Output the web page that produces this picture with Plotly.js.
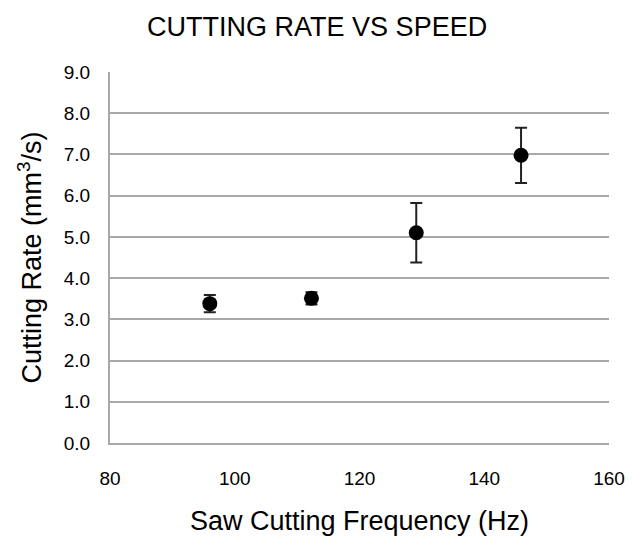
<!DOCTYPE html>
<html><head><meta charset="utf-8">
<script src="https://cdn.plot.ly/plotly-3.0.1.min.js"></script>
<style>html,body{margin:0;padding:0;background:#fff}</style>
</head><body>
<div id="chart" style="width:642px;height:536px"></div>
<script>
var frequency = [96.0, 112.3, 129.1, 145.9];
var cuttingRate = [3.38, 3.51, 5.10, 6.98];
var errorRate = [0.21, 0.15, 0.72, 0.67];

var trace = {
  x: frequency, y: cuttingRate, type: 'scatter', mode: 'markers',
  marker: {color: '#000', size: 15},
  error_y: {type: 'data', array: errorRate, visible: true, color: '#222', thickness: 2, width: 6},
  showlegend: false
};
var layout = {
  width: 642, height: 536,
  margin: {l: 110, r: 33, t: 72, b: 93},
  paper_bgcolor: '#fff', plot_bgcolor: '#fff',
  font: {family: 'Liberation Sans, Arial, sans-serif', color: '#000'},
  title: {text: 'CUTTING RATE VS SPEED', font: {size: 27}, x: 0.494, xanchor: 'center', y: 0.95, yanchor: 'middle'},
  xaxis: {
    range: [80, 160], tickvals: [80, 100, 120, 140, 160], ticktext: ['80','100','120','140','160'],
    showgrid: false, zeroline: false, showline: true, linecolor: '#a8a8a8', linewidth: 2,
    ticks: '', tickfont: {size: 19}, ticklabelstandoff: 17,
    title: {text: 'Saw Cutting Frequency (Hz)', font: {size: 27}, standoff: 26}
  },
  yaxis: {
    range: [0, 9], dtick: 1, tickformat: '.1f',
    showgrid: true, gridcolor: '#a8a8a8', gridwidth: 2, zeroline: false,
    showline: true, linecolor: '#a8a8a8', linewidth: 2,
    ticks: '', tickfont: {size: 19}, ticklabelstandoff: 14,
    title: {text: 'Cutting Rate (mm<sup>3</sup>/s)', font: {size: 27}, standoff: 14}
  }
};
Plotly.newPlot('chart', [trace], layout, {displayModeBar: false});
</script>
</body></html>
